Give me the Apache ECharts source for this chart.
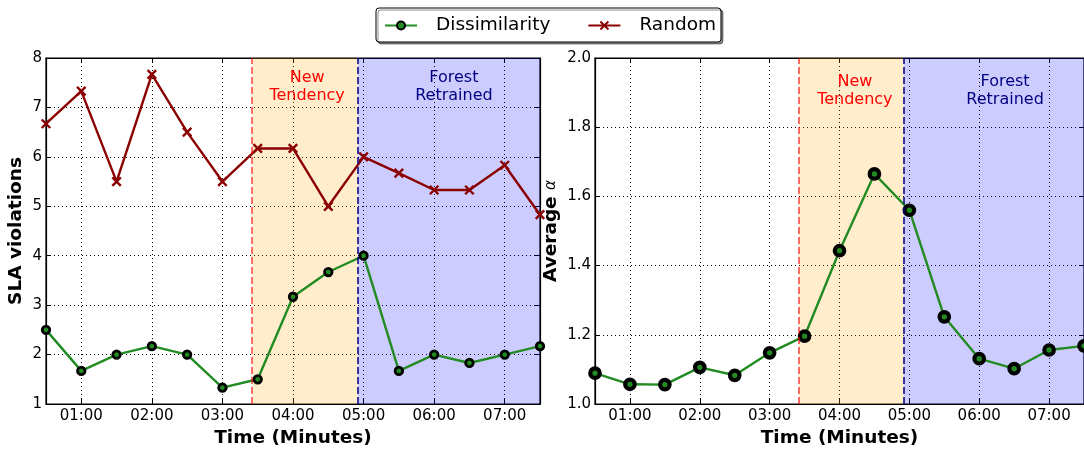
<!DOCTYPE html>
<html><head><meta charset="utf-8">
<script src="https://cdn.jsdelivr.net/npm/echarts@6/dist/echarts.min.js"></script>
<style>html,body{margin:0;padding:0;background:#fff}#c{width:1084px;height:453px}</style>
</head><body><div id="c"></div>
<script>
// ---- data ----
const times = [0.5, 1, 1.5, 2, 2.5, 3, 3.5, 4, 4.5, 5, 5.5, 6, 6.5, 7, 7.5];
const slaDissimilarity = [2.5, 1.67, 2.0, 2.17, 2.0, 1.33, 1.5, 3.17, 3.67, 4.0, 1.67, 2.0, 1.83, 2.0, 2.17];
const slaRandom = [6.67, 7.33, 5.5, 7.67, 6.5, 5.5, 6.17, 6.17, 5.0, 6.0, 5.67, 5.33, 5.33, 5.83, 4.83];
const alphaDissimilarity = [1.089, 1.057, 1.056, 1.106, 1.083, 1.148, 1.196, 1.443, 1.665, 1.56, 1.252, 1.131, 1.102, 1.156, 1.168];
const newTendencyStart = 3.42;
const retrainStart = 4.92;
const timeRange = [0.5, 7.5];
const slaRange = [1, 8, 1];
const alphaRange = [1.0, 2.0, 0.2];
const seriesNames = ['Dissimilarity', 'Random'];
const regionLabels = ['New\nTendency', 'Forest\nRetrained'];
const axisTitles = ['Time (Minutes)', 'SLA violations', 'Average', 'α'];
// annotation anchors (data units): [x, y]
const leftLabelAt = [[4.2, 7.42], [6.28, 7.42]];
const rightLabelAt = [[4.22, 1.905], [6.37, 1.905]];

// ---- styles ----
const FONT = 'DejaVu Sans';
const GREEN = '#228B22', DARKRED = '#8B0000';
const pairs = (xs, ys) => xs.map((x, i) => [x, ys[i]]);
const pad2 = n => (n < 10 ? '0' : '') + n;
const fmtTime = v => { const m = Math.floor(v + 1e-9); const s = Math.round((v - m) * 60); return pad2(m) + ':' + pad2(s); };

function xAxisDef(gridIndex, top) {
  return {
    type: 'value', gridIndex, position: top ? 'top' : 'bottom',
    min: timeRange[0], max: timeRange[1], minInterval: 1, maxInterval: 1, splitNumber: 7,
    name: top ? '' : axisTitles[0], nameLocation: 'middle', nameGap: 25,
    nameTextStyle: { fontFamily: FONT, fontWeight: 'bold', fontSize: 18.5, color: '#000' },
    axisLine: { show: true, onZero: false, lineStyle: { color: '#000', width: 1.2 } },
    axisTick: { show: true, inside: true, length: 5, lineStyle: { color: '#000' } },
    axisLabel: { show: !top, showMinLabel: false, showMaxLabel: false, formatter: fmtTime,
      fontFamily: FONT, fontSize: 15, color: '#000', margin: 5 },
    splitLine: { show: !top, lineStyle: { color: '#000', type: [1, 3], width: 1 } }
  };
}
function yAxisDef(gridIndex, range, right, name, gap, fmt) {
  return {
    type: 'value', gridIndex, position: right ? 'right' : 'left',
    min: range[0], max: range[1], interval: range[2],
    name: right ? '' : name, nameLocation: 'middle', nameGap: gap,
    nameTextStyle: { fontFamily: FONT, fontWeight: 'bold', fontSize: 18.5, color: '#000',
      rich: { b: { fontFamily: FONT, fontWeight: 'bold', fontSize: 18.5, color: '#000' },
              a: { fontFamily: FONT, fontStyle: 'italic', fontWeight: 'normal', fontSize: 15, color: '#000' } } },
    axisLine: { show: true, onZero: false, lineStyle: { color: '#000', width: 1.2 } },
    axisTick: { show: true, inside: true, length: 5, lineStyle: { color: '#000' } },
    axisLabel: { show: !right, formatter: fmt, fontFamily: FONT, fontSize: 15, color: '#000', margin: 4 },
    splitLine: { show: !right, lineStyle: { color: '#000', type: [1, 3], width: 1 } }
  };
}
function markers(labelAt) {
  return {
    markArea: { silent: true, data: [
      [{ xAxis: newTendencyStart, itemStyle: { color: 'rgba(255,165,0,0.2)' } }, { xAxis: retrainStart }],
      [{ xAxis: retrainStart, itemStyle: { color: 'rgba(0,0,255,0.2)' } }, { xAxis: timeRange[1] }]
    ] },
    markLine: { silent: true, symbol: ['none', 'none'], label: { show: false }, animation: false, data: [
      { xAxis: newTendencyStart, lineStyle: { color: 'rgba(255,0,0,0.75)', type: [7, 3], width: 1.5 } },
      { xAxis: retrainStart, lineStyle: { color: '#000080', type: [7, 3], width: 1.5 } }
    ] },
    markPoint: { silent: true, symbol: 'circle', symbolSize: 1, itemStyle: { color: 'rgba(0,0,0,0)' },
      label: { show: true, position: 'inside', formatter: p => p.name, fontFamily: FONT, fontSize: 16, lineHeight: 18, align: 'center' },
      data: [
        { name: regionLabels[0], coord: labelAt[0], label: { color: '#ff0000' } },
        { name: regionLabels[1], coord: labelAt[1], label: { color: '#000080' } }
      ] }
  };
}

const option = {
  animation: false,
  backgroundColor: '#fff',
  legend: {
    data: seriesNames, left: 376, top: 8, orient: 'horizontal',
    itemWidth: 32, itemHeight: 10, itemGap: 37, padding: [8, 5, 7, 8],
    textStyle: { fontFamily: FONT, fontSize: 18.5, color: '#000', padding: [0, 0, 0, 14] },
    borderColor: '#000', borderWidth: 1, borderRadius: 3, backgroundColor: '#fff',
    shadowColor: 'rgba(0,0,0,0.45)', shadowOffsetX: 2, shadowOffsetY: 2, shadowBlur: 0
  },
  grid: [
    { left: 46, top: 58, width: 494, height: 349.5, show: true, borderColor: '#000', borderWidth: 1.2, backgroundColor: '#fff' },
    { left: 595, top: 58, width: 494, height: 349.5, show: true, borderColor: '#000', borderWidth: 1.2, backgroundColor: '#fff' }
  ],
  xAxis: [xAxisDef(0, false), xAxisDef(0, true), xAxisDef(1, false), xAxisDef(1, true)],
  yAxis: [
    yAxisDef(0, slaRange, false, axisTitles[1], 20, v => String(v)),
    yAxisDef(0, slaRange, true, '', 0, v => String(v)),
    yAxisDef(1, alphaRange, false, '{b|' + axisTitles[2] + '} {a|' + axisTitles[3] + '}', 34, v => v.toFixed(1)),
    yAxisDef(1, alphaRange, true, '', 0, v => v.toFixed(1))
  ],
  series: [
    Object.assign({
      name: seriesNames[0], type: 'line', xAxisIndex: 0, yAxisIndex: 0, z: 3,
      data: pairs(times, slaDissimilarity),
      symbol: 'circle', symbolSize: 7.5, showAllSymbol: true,
      itemStyle: { color: GREEN, borderColor: '#000', borderWidth: 2.8 },
      lineStyle: { color: GREEN, width: 2.4 }
    }, markers(leftLabelAt)),
    {
      name: seriesNames[1], type: 'line', xAxisIndex: 0, yAxisIndex: 0, z: 4,
      data: pairs(times, slaRandom),
      symbol: 'path://M0,0L10,10M10,0L0,10', symbolSize: 8.5, showAllSymbol: true,
      itemStyle: { color: DARKRED, borderColor: DARKRED, borderWidth: 2.4 },
      lineStyle: { color: DARKRED, width: 2.4 }
    },
    Object.assign({
      name: seriesNames[0], type: 'line', xAxisIndex: 2, yAxisIndex: 2, z: 3,
      data: pairs(times, alphaDissimilarity),
      symbol: 'circle', symbolSize: 9.5, showAllSymbol: true,
      itemStyle: { color: GREEN, borderColor: '#000', borderWidth: 4.2 },
      lineStyle: { color: GREEN, width: 2.4 }
    }, markers(rightLabelAt))
  ]
};
const chart = echarts.init(document.getElementById('c'), null, { renderer: 'canvas' });
chart.setOption(option);
</script>
</body></html>
